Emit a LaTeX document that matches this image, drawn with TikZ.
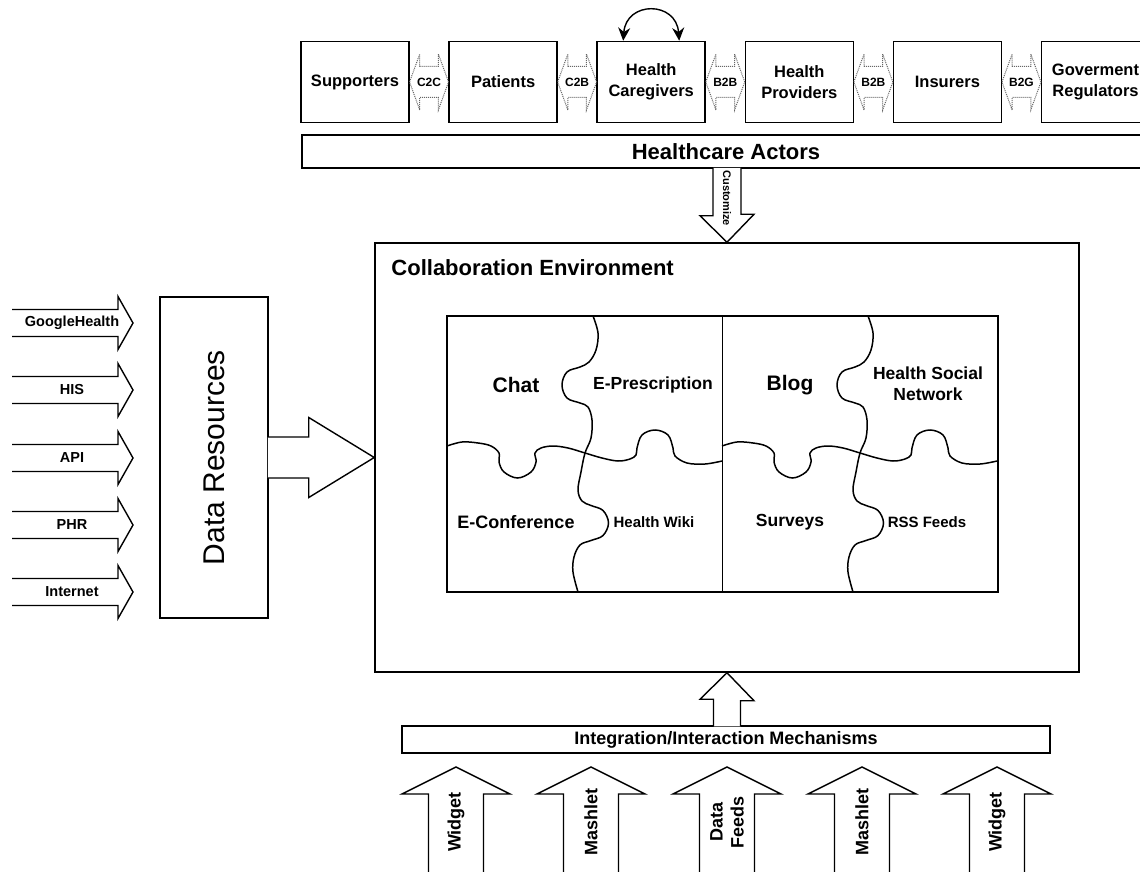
\documentclass[tikz,border=0pt]{standalone}
\usepackage{fontspec}
\setmainfont{Liberation Sans}
\usetikzlibrary{positioning, shapes.arrows, arrows.meta, calc}

\begin{document}
\begin{tikzpicture}[x=1pt, y=-1pt, node distance=38.6pt,
    frame/.style={draw, line width=1.5pt, fill=white},
    actorbox/.style={frame, minimum width=108pt, minimum height=81pt, align=center, font=\fontsize{16.5}{21}\selectfont\bfseries},
    relarrow/.style={double arrow, draw=black!60, densely dotted, line width=1pt, double arrow tip angle=140, double arrow head extend=12.5pt, minimum height=39pt, text height=8.5pt, text depth=0pt, inner xsep=-3pt, inner ysep=10.75pt, font=\fontsize{12}{12}\selectfont\bfseries},
    blockarrow/.style={draw, line width=1.4pt, fill=white, line join=miter},
    piece/.style={line width=1.5pt},
    bigtext/.style={font=\fontsize{21}{24}\selectfont\bfseries},
    midtext/.style={font=\fontsize{17.5}{21}\selectfont\bfseries, align=center},
    smalltext/.style={font=\fontsize{15}{17}\selectfont\bfseries}]
    \useasboundingbox (0,0) rectangle (1140,872);

    % Healthcare actors
    \node [actorbox] (supporters) at (355,82) {Supporters};
    \node [actorbox, right=of supporters] (patients) {Patients};
    \node [actorbox, right=of patients] (caregivers) {Health\\Caregivers};
    \node [actorbox, right=of caregivers] (providers) {Health\\Providers};
    \node [actorbox, right=of providers] (insurers) {Insurers};
    \node [actorbox, right=of insurers] (regulators) {Goverment\\Regulators};

    % Relations between actors
    \foreach \a/\b/\rel in {supporters/patients/C2C, patients/caregivers/C2B, caregivers/providers/B2B, providers/insurers/B2B, insurers/regulators/B2G}
        \node [relarrow] (\a-\b) at ($(\a.east)!0.5!(\b.west)$) {\rel};
    \draw [line width=1.4pt, {Stealth[length=13pt,width=12pt]}-{Stealth[length=13pt,width=12pt]}] ($(caregivers.north)+(-28,0)$) .. controls +(3,-40) and +(-3,-40) .. ($(caregivers.north)+(28,0)$);

    \node [frame, minimum width=848pt, minimum height=33pt, font=\fontsize{22}{26}\selectfont\bfseries] (actors) at (726,151.5) {Healthcare Actors};

    % Collaboration environment
    \node [frame, minimum width=704pt, minimum height=429pt] (collab) at (727,457.5) {};
    \node [anchor=west, inner sep=0pt, font=\fontsize{22}{26}\selectfont\bfseries] (collabtitle) at ($(collab.north west)+(17,25)$) {Collaboration Environment};

    \draw [blockarrow] ($(collab.north |- actors.south)+(-14,-1)$) -- ++(0,48) -- ++(-13,0) -- (collab.north) -- ++(27,-28) -- ++(-13,0) -- ($(collab.north |- actors.south)+(14,-1)$);
    \node [rotate=-90, font=\fontsize{11}{12}\selectfont\bfseries] (customize) at ($(collab.north)+(0,-44)$) {Customize};

    % Puzzle of tools
    \node [draw, piece, minimum width=551pt, minimum height=276pt, inner sep=0pt] (puzzle) at (722.5,454) {};
    \draw [piece] (puzzle.north) -- (puzzle.south);
    \foreach \dx in {0,275} {
        \draw [piece, xshift=\dx pt] plot [smooth, tension=0.6] coordinates {(593,316) (598,333) (596,350) (589,362) (580,367) (567,372) (562,385) (567,398) (580,403) (588,407) (592,420) (591,438) (585,453) (581,472) (578,490) (582,501) (591,505.5) (603,510.5) (608.5,523) (603,535.5) (591,540.5) (580,545) (574,557) (573,572) (578,592)};
        \draw [piece, xshift=\dx pt] plot [smooth, tension=0.6] coordinates {(447,446) (462,442) (478,443) (491,446) (499,453) (499,462) (504,472) (517.5,478) (531,472) (536,462) (535,453) (541,448) (553,446) (568,448) (585,453) (602,458) (618,461) (630,459) (636,455) (637,448) (642,435) (655,430) (668,435) (673,448) (675,456) (687,463) (705,464) (722,461)};
    }
    \node [bigtext] (chat) at (516,385) {Chat};
    \node [midtext] (prescription) at (653,385) {E-Prescription};
    \node [midtext, font=\fontsize{18}{21}\selectfont\bfseries] (conference) at (516,522) {E-Conference};
    \node [smalltext] (wiki) at (654,522) {Health Wiki};
    \node [bigtext] (blog) at (790,385) {Blog};
    \node [midtext] (social) at (928,384) {Health Social\\Network};
    \node [midtext] (surveys) at (790,522) {Surveys};
    \node [smalltext] (rss) at (927,522) {RSS Feeds};

    % Data resources
    \node [frame, minimum width=108pt, minimum height=321pt] (datares) at (214,457.5) {};
    \node [rotate=90, font=\fontsize{30}{34}\selectfont] (dataresname) at (datares.center) {Data Resources};
    \draw [blockarrow] ($(datares.east)+(-1,-20.5)$) -- ++(41,0) -- ++(0,-19.5) -- (collab.west) -- ($(datares.east)+(40,40)$) -- ++(0,-19.5) -- ($(datares.east)+(-1,20.5)$);
    \foreach \y/\src in {323/GoogleHealth, 390/HIS, 458/API, 525/PHR, 592/Internet} {
        \draw [blockarrow] (12,\y-13.5) -- (118,\y-13.5) -- (118,\y-26.5) -- (133,\y) -- (118,\y+26.5) -- (118,\y+13.5) -- (12,\y+13.5);
        \node [font=\fontsize{14.5}{16}\selectfont\bfseries] (\src) at (72,\y) {\src};
    }

    % Integration mechanisms
    \node [frame, minimum width=648pt, minimum height=27pt, font=\fontsize{18}{20}\selectfont\bfseries] (integ) at (726,739.5) {Integration/Interaction Mechanisms};
    \draw [blockarrow] ($(collab.south |- integ.north)+(-13.5,1)$) -- ++(0,-27) -- ++(-13.5,0) -- (collab.south) -- ++(27,28) -- ++(-13.5,0) -- ($(collab.south |- integ.north)+(13.5,1)$);
    \foreach \x/\name/\txt in {456/widgetA/Widget, 591/mashletA/Mashlet, 727/feeds/{Data\\Feeds}, 862/mashletB/Mashlet, 997/widgetB/Widget} {
        \draw [blockarrow] (\x-27.5,885) -- (\x-27.5,794) -- (\x-54,794) -- (\x,767) -- (\x+54,794) -- (\x+27.5,794) -- (\x+27.5,885);
        \node [rotate=90, align=center, font=\fontsize{18}{21}\selectfont\bfseries] (\name) at (\x,822) {\txt};
    }
\end{tikzpicture}
\end{document}
